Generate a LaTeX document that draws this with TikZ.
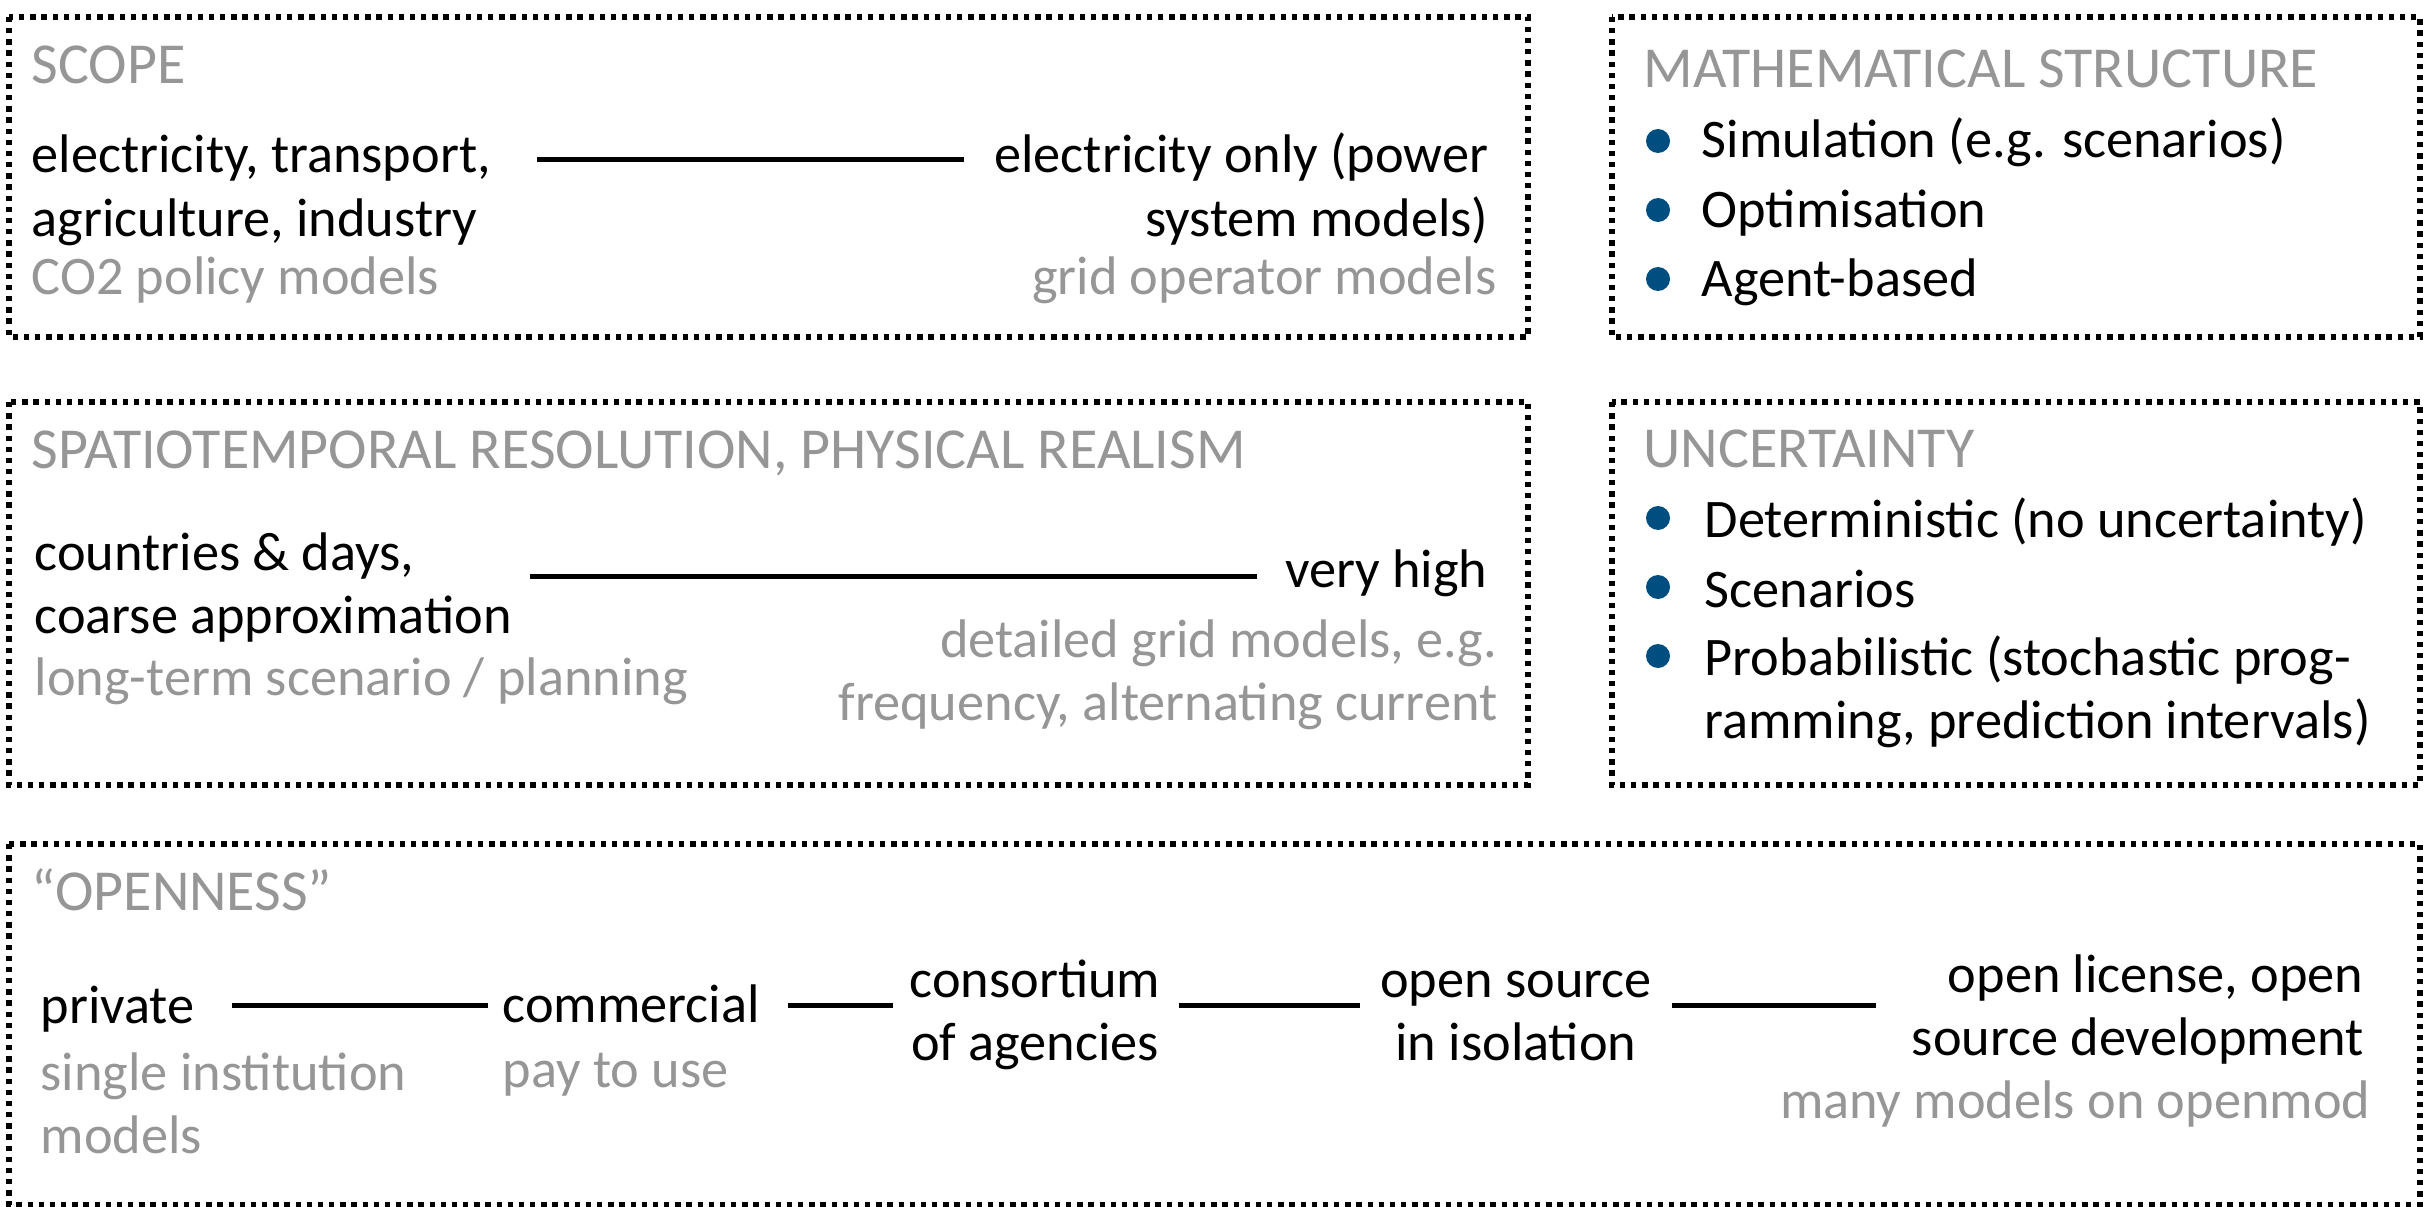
\documentclass[tikz,border=0pt]{standalone}
\usepackage{fontspec}
\setmainfont{Carlito}
\definecolor{greytxt}{RGB}{150,150,150}
\definecolor{bulletblue}{RGB}{0,78,128}
\tikzset{
	frame/.style={line width=1.6pt, dash pattern=on 1.6pt off 1.75pt},
	heading/.style={anchor=base west, inner sep=0pt, text=greytxt, font=\fontsize{17.4}{20}\selectfont},
	lbl/.style={anchor=base west, inner sep=0pt},
	lblr/.style={anchor=base east, inner sep=0pt},
	lblc/.style={anchor=base, inner sep=0pt},
	bar/.style={line width=1.5pt},
	blob/.style={circle, fill=bulletblue, inner sep=0pt, minimum size=7.2pt}
}

\begin{document}
\begin{tikzpicture}[x=0.3pt,y=0.3pt,yscale=-1,xscale=1,font=\fontsize{16.3}{20}\selectfont]
	\useasboundingbox (0,0) rectangle (2427,1207);

	% Boxes
	\draw [frame] (9,17) rectangle (1528,337);
	\draw [frame] (1612,17) rectangle (2420,337);
	\draw [frame] (9,402) rectangle (1528,785);
	\draw [frame] (1612,402) rectangle (2420,785);
	\draw [frame] (9,844) rectangle (2420,1205);

	% Scope
	\node (scope) at (31,84) [heading] {SCOPE};
	\node (sc-l1) at (31,173) [lbl] {electricity, transport,};
	\node (sc-l2) at (31,237) [lbl] {agriculture, industry};
	\node (sc-l3) at (31,294) [lbl, text=greytxt] {CO2 policy models};
	\node (sc-r1) at (1489,173) [lblr] {electricity only (power};
	\node (sc-r2) at (1489,237) [lblr] {system models)};
	\node (sc-r3) at (1497,294) [lblr, text=greytxt] {grid operator models};
	\coordinate (sc-a) at (537,160);
	\coordinate (sc-b) at (964,160);
	\draw [bar] (sc-a) -- (sc-b);

	% Mathematical structure
	\node (maths) at (1643,88) [heading] {MATHEMATICAL STRUCTURE};
	\node (ms-d1) at (1658,141) [blob] {};
	\node (ms-d2) at (1658,210) [blob] {};
	\node (ms-d3) at (1658,279) [blob] {};
	\node (ms-t1) at (1701,158) [lbl] {Simulation (e.g. scenarios)};
	\node (ms-t2) at (1701,228) [lbl] {Optimisation};
	\node (ms-t3) at (1701,297) [lbl] {Agent-based};

	% Spatiotemporal resolution
	\node (spatio) at (31,468) [heading] {SPATIOTEMPORAL RESOLUTION, PHYSICAL REALISM};
	\node (st-l1) at (34,570) [lbl] {countries \& days,};
	\node (st-l2) at (34,633) [lbl] {coarse approximation};
	\node (st-l3) at (34,695) [lbl, text=greytxt] {long-term scenario / planning};
	\node (st-r1) at (1488,587) [lblr] {very high};
	\node (st-r2) at (1498,657) [lblr, text=greytxt] {detailed grid models, e.g.};
	\node (st-r3) at (1498,720) [lblr, text=greytxt] {frequency, alternating current};
	\coordinate (st-a) at (530,576);
	\coordinate (st-b) at (1257,576);
	\draw [bar] (st-a) -- (st-b);

	% Uncertainty
	\node (uncert) at (1643,467) [heading] {UNCERTAINTY};
	\node (un-d1) at (1658,518) [blob] {};
	\node (un-d2) at (1658,587) [blob] {};
	\node (un-d3) at (1658,656) [blob] {};
	\node (un-t1) at (1704,537) [lbl] {Deterministic (no uncertainty)};
	\node (un-t2) at (1704,607) [lbl] {Scenarios};
	\node (un-t3) at (1704,675) [lbl] {Probabilistic (stochastic prog-};
	\node (un-t4) at (1704,738) [lbl] {ramming, prediction intervals)};

	% Openness
	\node (open) at (31,910) [heading] {“OPENNESS”};
	\node (op-priv) at (40,1023) [lbl] {private};
	\node (op-priv2) at (40,1090) [lbl, text=greytxt] {single institution};
	\node (op-priv3) at (40,1153) [lbl, text=greytxt] {models};
	\node (op-comm) at (502,1022) [lbl] {commercial};
	\node (op-comm2) at (502,1087) [lbl, text=greytxt] {pay to use};
	\node (op-cons) at (1035,997) [lblc] {consortium};
	\node (op-cons2) at (1035,1060) [lblc] {of agencies};
	\node (op-iso) at (1516,997) [lblc] {open source};
	\node (op-iso2) at (1516,1060) [lblc] {in isolation};
	\node (op-lic) at (2364,992) [lblr] {open license, open};
	\node (op-lic2) at (2364,1055) [lblr] {source development};
	\node (op-lic3) at (2371,1118) [lblr, text=greytxt] {many models on openmod};
	\coordinate (op-a) at (232,1005);
	\coordinate (op-b) at (488,1005);
	\coordinate (op-c) at (788,1005);
	\coordinate (op-d) at (893,1005);
	\coordinate (op-e) at (1179,1005);
	\coordinate (op-f) at (1360,1005);
	\coordinate (op-g) at (1672,1005);
	\coordinate (op-h) at (1876,1005);
	\draw [bar] (op-a) -- (op-b);
	\draw [bar] (op-c) -- (op-d);
	\draw [bar] (op-e) -- (op-f);
	\draw [bar] (op-g) -- (op-h);

\end{tikzpicture}
\end{document}
